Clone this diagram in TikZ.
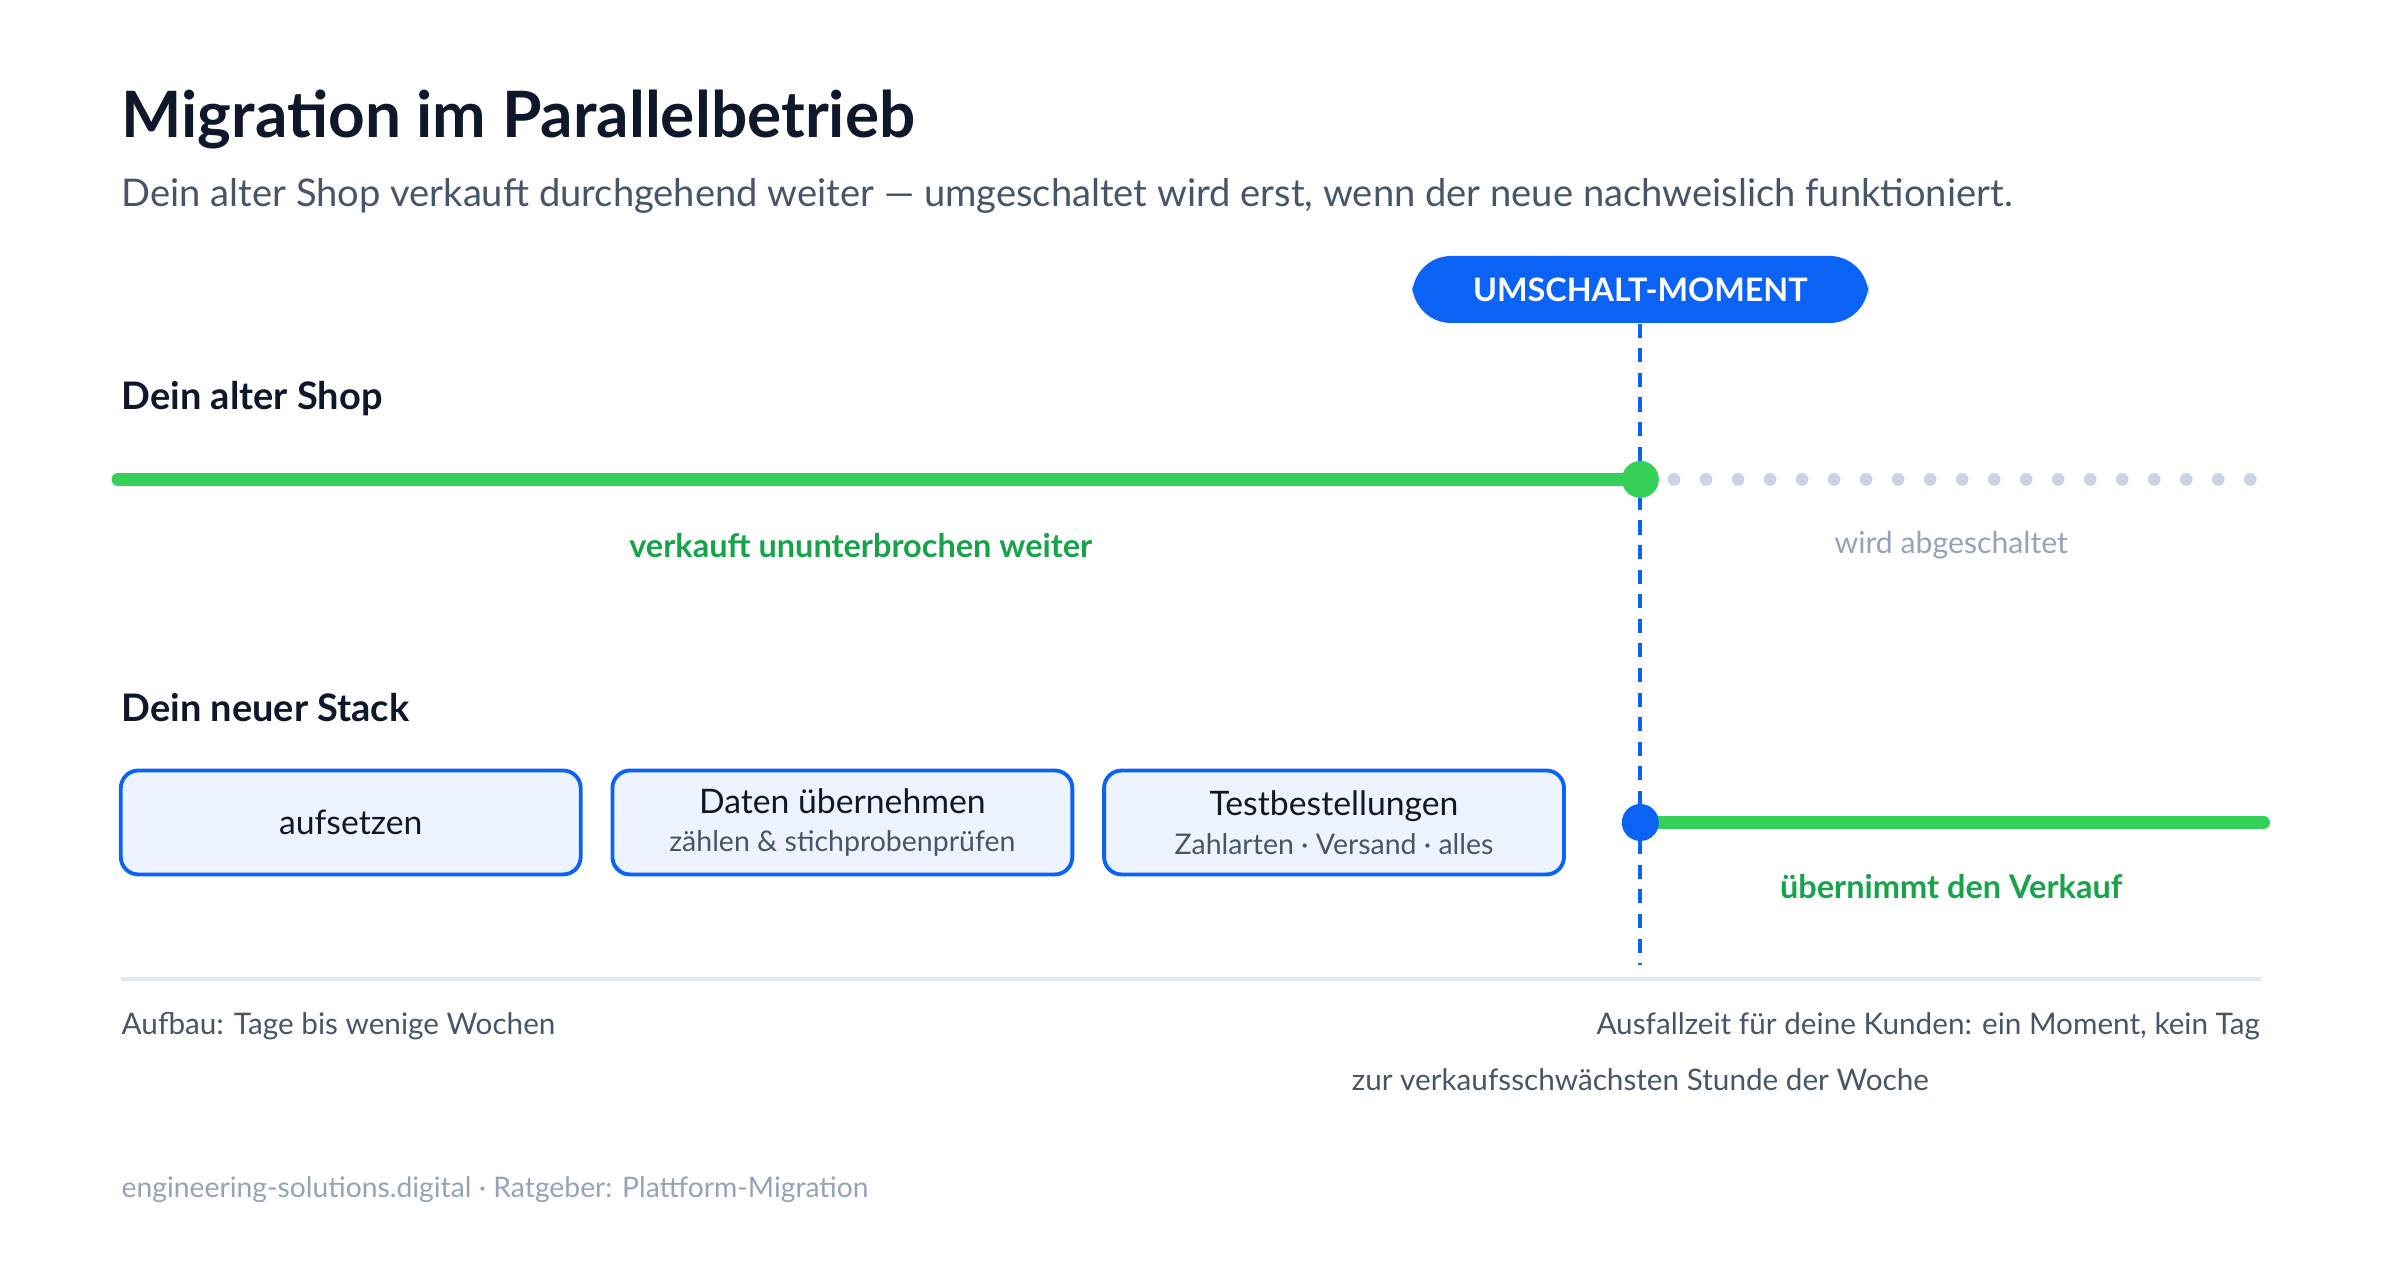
\documentclass[tikz,border=0pt]{standalone}
\usepackage{fontspec}
\setmainfont{Lato}
\usepackage{tikz}
\usetikzlibrary{calc}
\definecolor{ink}{HTML}{0F172A}
\definecolor{slate}{HTML}{475569}
\definecolor{mute}{HTML}{94A3B8}
\definecolor{dotc}{HTML}{CBD5E1}
\definecolor{rule}{HTML}{E2E8F0}
\definecolor{blu}{HTML}{0B63F6}
\definecolor{grn}{HTML}{34D058}
\definecolor{dgrn}{HTML}{16A34A}
\definecolor{pale}{HTML}{EEF4FF}
\newcommand{\phasesub}[1]{{\fontsize{8.1}{10}\selectfont\color{slate}#1}}
\tikzset{
  phase/.style={draw=blu, line width=1.1pt, fill=pale, rounded corners=5pt,
    minimum width=4.6cm, minimum height=1.04cm, align=center, font=\fontsize{9.6}{12}\selectfont\color{ink}},
  lbl/.style={anchor=west, inner sep=0pt, font=\fontsize{10.8}{13}\selectfont\bfseries\color{ink}},
  note/.style={font=\fontsize{8.45}{11}\selectfont\color{slate}},
}
\begin{document}
\begin{tikzpicture}[x=0.015316cm, y=-0.015316cm]
          \useasboundingbox (0,0) rectangle (1567,835.7);
          % header
          \node (title) at (79,78) [anchor=west, inner sep=0pt, font=\fontsize{18.2}{20}\selectfont\bfseries\color{ink}] {Migration im Parallelbetrieb};
          \node (subtitle) at (79,128) [anchor=west, inner sep=0pt, font=\fontsize{10.85}{13}\selectfont\color{slate}] {Dein alter Shop verkauft durchgehend weiter — umgeschaltet wird erst, wenn der neue nachweislich funktioniert.};
          % switch moment
          \node (pill) at (1071,189) [fill=blu, rounded corners=11pt, minimum width=4.56cm, minimum height=0.67cm, font=\fontsize{9.2}{12}\selectfont\bfseries\color{white}] {UMSCHALT-MOMENT};
          \coordinate (cutend) at (1071,630);
          \draw[blu, line width=1.1pt, dash pattern=on 4pt off 3pt] (pill.south) -- (cutend);
          % old shop
          \node (old) at (79,260) [lbl] {Dein alter Shop};
          \coordinate (oldstart) at (77,313);
          \node (oldend) at (1071,313) [fill=grn, circle, minimum size=0.37cm, inner sep=0pt] {};
          \draw[grn, line width=3.6pt, line cap=round] (oldstart) -- (oldend.center);
          \foreach \x in {0,...,18}
            \fill[dotc] ({1093+\x*20.9},313) circle (4.2);
          \node (sells) at (562,356) [font=\fontsize{9.25}{12}\selectfont\bfseries\color{dgrn}] {verkauft ununterbrochen weiter};
          \node (off) at (1274,356) [font=\fontsize{8.6}{12}\selectfont\color{mute}] {wird abgeschaltet};
          % new stack
          \node (new) at (79,462) [lbl] {Dein neuer Stack};
          \node (setup) at (229,537) [phase] {aufsetzen};
          \node (data) at (550,537) [phase] {Daten übernehmen\\[-1pt]\phasesub{zählen \& stichprobenprüfen}};
          \node (tests) at (871,537) [phase] {Testbestellungen\\[-1pt]\phasesub{Zahlarten · Versand · alles}};
          \coordinate (newend) at (1478,537);
          \draw[grn, line width=3.6pt, line cap=round] (1071,537) -- (newend);
          \node (newstart) at (1071,537) [fill=blu, circle, minimum size=0.37cm, inner sep=0pt] {};
          \node (takes) at (1274,579) [font=\fontsize{9.25}{12}\selectfont\bfseries\color{dgrn}] {übernimmt den Verkauf};
          % footer
          \draw[rule, line width=1.2pt] (79,639) -- (1476,639);
          \node (build) at (79,670) [anchor=west, inner sep=0pt, note] {Aufbau: Tage bis wenige Wochen};
          \node (down) at (1476,670) [anchor=east, inner sep=0pt, note] {Ausfallzeit für deine Kunden: ein Moment, kein Tag};
          \node (hour) at (1071,705) [note] {zur verkaufsschwächsten Stunde der Woche};
          \node (src) at (79,777) [anchor=west, inner sep=0pt, font=\fontsize{8.05}{11}\selectfont\color{mute}] {engineering-solutions.digital · Ratgeber: Plattform-Migration};
\end{tikzpicture}
\end{document}
